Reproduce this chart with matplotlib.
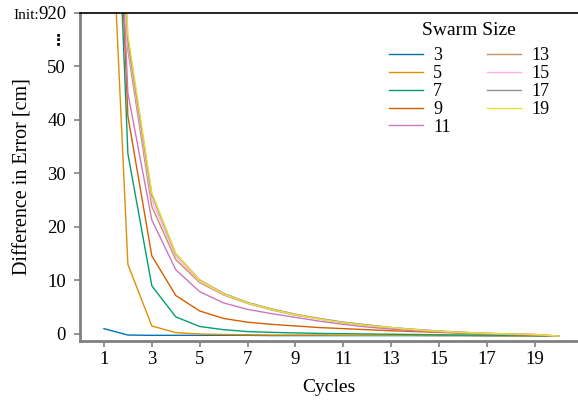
import numpy as np
import matplotlib.pyplot as plt

plt.rcParams['font.family'] = ['Liberation Serif', 'DejaVu Serif']

cycles = list(range(1, 21))
swarm_sizes = [3, 5, 7, 9, 11, 13, 15, 17, 19]

# difference in error per cycle (first point clipped above the axis)
err_3 = [1.0, -0.2, -0.25, -0.25, -0.25, -0.25, -0.25, -0.3, -0.3, -0.3,
         -0.3, -0.3, -0.3, -0.3, -0.3, -0.3, -0.35, -0.35, -0.35, -0.4]
err_5 = [110, 13.0, 1.5, 0.25, 0.0, -0.1, -0.15, -0.2, -0.2, -0.2,
         -0.25, -0.25, -0.25, -0.25, -0.3, -0.3, -0.3, -0.35, -0.35, -0.4]
err_7 = [145, 33.7, 9.0, 3.2, 1.4, 0.8, 0.45, 0.3, 0.2, 0.1,
         0.05, 0.0, -0.05, -0.1, -0.15, -0.2, -0.2, -0.25, -0.3, -0.4]
err_9 = [150, 40.7, 14.6, 7.2, 4.3, 2.9, 2.2, 1.8, 1.5, 1.2,
         1.0, 0.8, 0.6, 0.45, 0.3, 0.15, 0.0, -0.1, -0.2, -0.4]
err_11 = [150, 45.0, 21.3, 12.0, 7.9, 5.8, 4.6, 3.8, 3.1, 2.4,
          1.8, 1.3, 0.9, 0.6, 0.4, 0.2, 0.05, -0.1, -0.2, -0.4]
err_13 = [150, 53.0, 23.8, 13.9, 9.6, 7.3, 5.7, 4.5, 3.5, 2.8,
          2.1, 1.6, 1.1, 0.8, 0.5, 0.3, 0.1, 0.0, -0.1, -0.4]
err_15 = [150, 54.0, 25.0, 14.5, 9.8, 7.4, 5.8, 4.6, 3.6, 2.9,
          2.2, 1.7, 1.2, 0.85, 0.55, 0.3, 0.15, 0.0, -0.1, -0.4]
err_17 = [150, 55.0, 26.0, 15.0, 10.1, 7.6, 5.9, 4.7, 3.7, 2.9,
          2.2, 1.7, 1.2, 0.85, 0.55, 0.3, 0.1, 0.0, -0.1, -0.4]
err_19 = [150, 56.0, 26.4, 15.1, 10.0, 7.5, 5.8, 4.6, 3.6, 2.8,
          2.1, 1.6, 1.2, 0.8, 0.5, 0.3, 0.1, 0.0, -0.1, -0.4]
errors = [err_3, err_5, err_7, err_9, err_11, err_13, err_15, err_17, err_19]

colors = ['#0173b2', '#de8f05', '#029e73', '#d55e00', '#cc78bc',
          '#ca9161', '#fbafe4', '#949494', '#ece133']

ytick_vals = [0, 10, 20, 30, 40, 50, 60]
ytick_labels = ['0', '10', '20', '30', '40', '50', '920']
xtick_vals = list(range(1, 21, 2))

fig = plt.figure(figsize=(5.78, 4.03), dpi=100)
ax = fig.add_axes([0.1384, 0.154, 0.8616, 0.814])

for size, err, col in zip(swarm_sizes, errors, colors):
    ax.plot(cycles, err, color=col, lw=1.0, label=str(size))

ax.set_xlim(0, 20.8)
ax.set_ylim(-1.3, 60)
ax.set_xticks(xtick_vals)
ax.set_yticks(ytick_vals)
ax.set_yticklabels(ytick_labels)
ax.tick_params(labelsize=13.5, color='#808080', length=4, width=1.2)
ax.tick_params(axis='y', pad=6)

ax.spines['right'].set_visible(False)
ax.spines['left'].set_color('#808080')
ax.spines['left'].set_linewidth(2)
ax.spines['bottom'].set_color('#808080')
ax.spines['bottom'].set_linewidth(2)
ax.spines['top'].set_color('black')
ax.spines['top'].set_linewidth(1.2)

ax.text(-0.044, 55.0, '⋮', transform=ax.get_yaxis_transform(), ha='center', va='center',
        fontsize=11, fontweight='bold', family=['DejaVu Sans'])
ax.text(-0.083, 59.6, 'Init:', transform=ax.get_yaxis_transform(), ha='right', va='center',
        fontsize=11)

ax.set_xlabel('Cycles', fontsize=14, labelpad=8)
ax.set_ylabel('Difference in Error [cm]', fontsize=14.5, labelpad=4)

leg = ax.legend(title='Swarm Size', ncol=2, frameon=False, fontsize=13, title_fontsize=14,
                loc='upper right', bbox_to_anchor=(0.975, 1.021), handlelength=1.9,
                columnspacing=2.0, labelspacing=0.05, handletextpad=0.55)
leg._legend_box.sep = 5.7  # more room under the title

fig.savefig('out.png', dpi=100)
